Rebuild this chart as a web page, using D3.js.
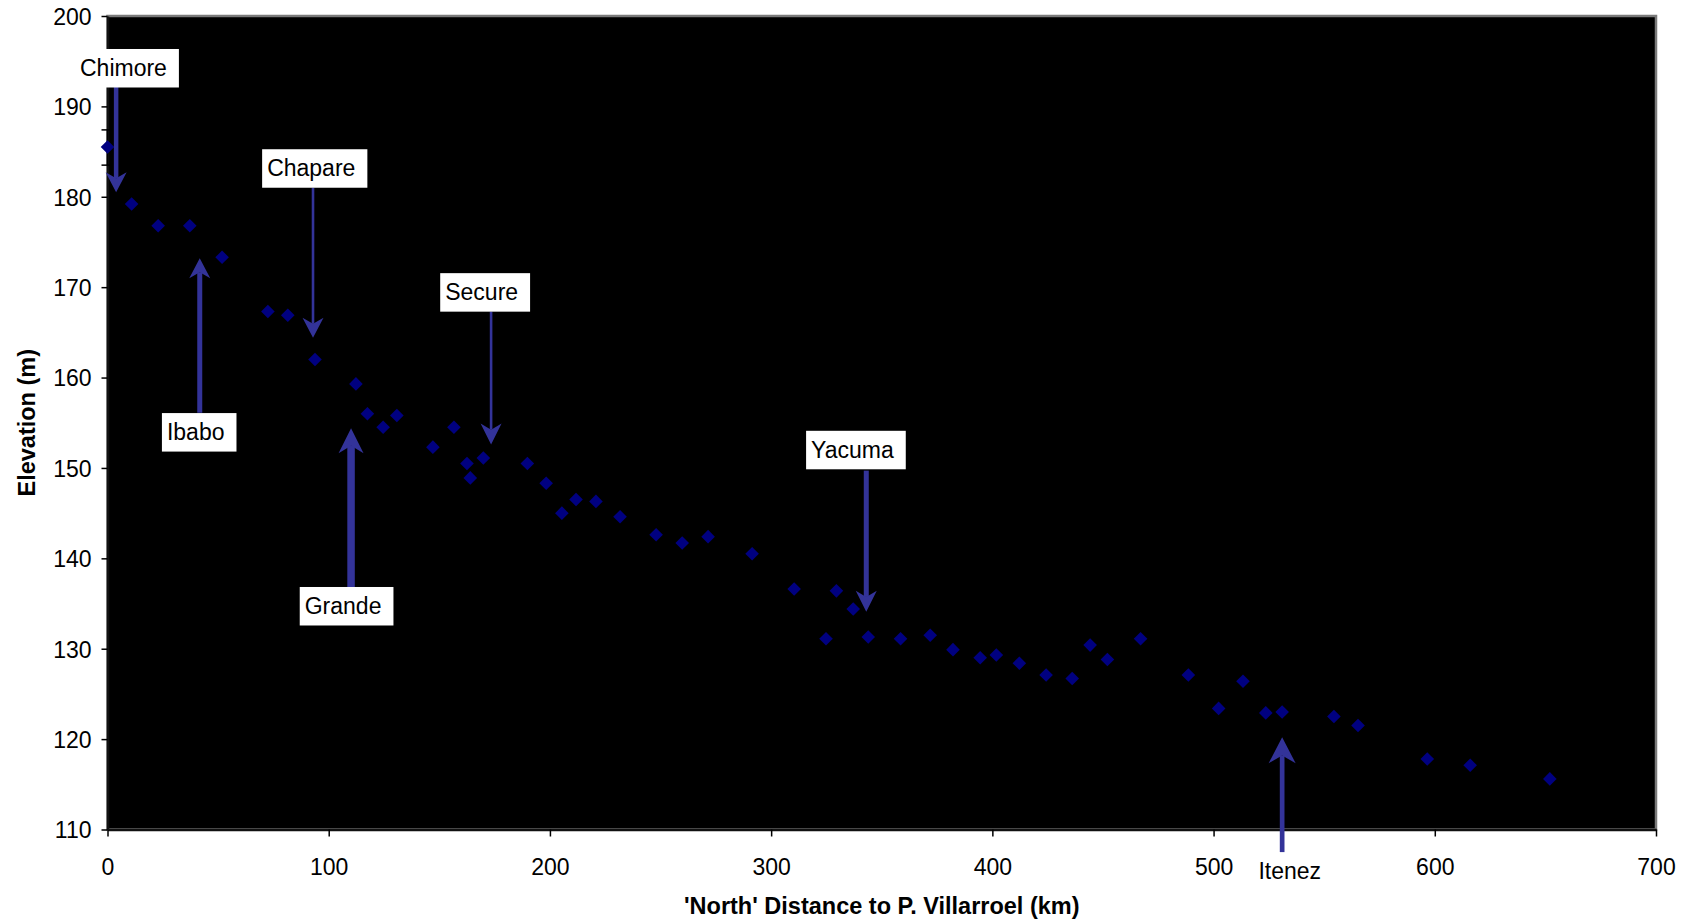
<!DOCTYPE html>
<html>
<head>
<meta charset="utf-8">
<script src="https://cdn.jsdelivr.net/npm/d3@7"></script>
<style>
    body { margin: 0; background: white; }
    svg { display: block; }
</style>
</head>
<body>
<div class="graph"></div>
<script>
// distance north (km) and elevation (m) of each point
var distKm = [0, 10.9, 22.9, 37.2, 51.8, 72.5, 81.5, 93.8, 112.3, 117.5, 124.6, 130.8, 147.1, 156.6,
    162.5, 164.0, 169.9, 189.8, 198.3, 205.4, 211.8, 220.8, 231.7, 248.0, 259.8, 271.5, 291.4, 310.4,
    324.8, 329.5, 337.1, 343.9, 358.5, 371.9, 382.2, 394.5, 401.8, 412.2, 424.3, 436.1, 444.2, 452.0,
    467.0, 488.6, 502.3, 513.3, 523.6, 531.0, 554.4, 565.3, 596.6, 616.0, 652.0];
var elevM = [185.5, 179.2, 176.8, 176.8, 173.3, 167.3, 166.9, 162.0, 159.3, 156.0, 154.5, 155.8, 152.3, 154.5,
    150.5, 148.9, 151.1, 150.5, 148.3, 145.0, 146.5, 146.3, 144.6, 142.6, 141.7, 142.4, 140.5, 136.6,
    131.1, 136.4, 134.4, 131.3, 131.1, 131.5, 129.9, 129.0, 129.3, 128.4, 127.1, 126.7, 130.4, 128.8,
    131.1, 127.1, 123.4, 126.4, 122.9, 123.0, 122.5, 121.5, 117.8, 117.1, 115.6];

// error bar on the first point (only part that shows)
var errKm = [0];
var errLow = [183.5];
var errHigh = [187.4];

var xTicks = [0, 100, 200, 300, 400, 500, 600, 700];
var yTicks = [110, 120, 130, 140, 150, 160, 170, 180, 190, 200];

// river annotations: arrow at km, from tail elevation to tip elevation, label box corner
var riverNames = ["Chimore", "Chapare", "Secure", "Ibabo", "Grande", "Yacuma", "Itenez"];
var riverKm = [3.9, 92.9, 173.4, 41.7, 110.1, 343.0, 531.0];
var riverTail = [192.6, 181.0, 167.3, 156.1, 136.8, 149.7, 107.5];
var riverTip = [180.5, 164.4, 152.6, 173.2, 154.4, 134.1, 120.2];
var labelKm = [-14.7, 69.9, 150.4, 24.6, 86.9, 315.8, 518.0];
var labelElev = [196.35, 185.26, 171.55, 156.07, 136.83, 154.11, 107.5];

var text_color, dot_color, arrow_color, font;

function graphConfig()
{
    /// CONFIG VARIABLES ///
    text_color = "black";
    dot_color = "#000080";
    arrow_color = "#333399";
    font = "'Liberation Sans', Arial, sans-serif";
    //// END OF CONFIG ////
}

// line width and head size of each arrow (same order as riverNames)
var arrowStyle = [
    {w: 4.5, hw: 21, hh: 20, box: true},
    {w: 2.6, hw: 21, hh: 20, box: true},
    {w: 2.6, hw: 21, hh: 21, box: true},
    {w: 5, hw: 21, hh: 20, box: true},
    {w: 7.5, hw: 25, hh: 25, box: true},
    {w: 5, hw: 21, hh: 21, box: true},
    {w: 4.7, hw: 27, hh: 26, box: false}
];

function createGraph() {
    var svgWidth = 1690, svgHeight = 920;
    var margin = {top: 16, right: 34, bottom: 90.5, left: 107.5};
    var width = svgWidth - margin.left - margin.right;
    var height = svgHeight - margin.top - margin.bottom;

    var svg = d3.select("div.graph").append("svg")
        .attr("width", svgWidth)
        .attr("height", svgHeight)
        .style("font-family", font);

    var g = svg.append("g")
        .attr("transform", "translate(" + margin.left + "," + margin.top + ")");

    var x = d3.scaleLinear().domain([0, 700]).range([0, width]);
    var y = d3.scaleLinear().domain([110, 200]).range([height, 0]);

    // plot area
    g.append("rect")
        .attr("width", width)
        .attr("height", height)
        .attr("fill", "black")
        .attr("stroke", "#7a7a7a")
        .attr("stroke-width", 2.5);

    var xAxis = g.append("g")
        .attr("transform", "translate(0," + height + ")")
        .call(d3.axisBottom(x).tickValues(xTicks).tickSize(7).tickSizeOuter(0).tickPadding(22));
    xAxis.select(".domain").attr("stroke", "#111").attr("stroke-width", 2.5);
    xAxis.selectAll(".tick line").attr("stroke", "black").attr("stroke-width", 1.5);
    xAxis.selectAll("text").attr("font-size", 23).attr("fill", text_color);

    var yAxis = g.append("g")
        .call(d3.axisLeft(y).tickValues(yTicks).tickSize(6).tickSizeOuter(0).tickPadding(10));
    yAxis.select(".domain").attr("stroke", "#111").attr("stroke-width", 2.5);
    yAxis.selectAll(".tick line").attr("stroke", "black").attr("stroke-width", 1.5);
    yAxis.selectAll("text").attr("font-size", 23).attr("fill", text_color).attr("dy", "0.36em");

    // axis titles
    svg.append("text")
        .attr("x", margin.left + width / 2)
        .attr("y", 914)
        .attr("text-anchor", "middle")
        .attr("font-size", 23.5)
        .attr("font-weight", "bold")
        .attr("fill", text_color)
        .text("'North' Distance to P. Villarroel (km)");

    svg.append("text")
        .attr("transform", "translate(34.5," + (margin.top + height / 2) + ") rotate(-90)")
        .attr("text-anchor", "middle")
        .attr("font-size", 23.5)
        .attr("font-weight", "bold")
        .attr("fill", text_color)
        .text("Elevation (m)");

    // error bar
    var eb = g.append("g").attr("stroke", "black").attr("stroke-width", 1.5);
    errKm.forEach(function (k, i) {
        eb.append("line").attr("x1", x(k)).attr("x2", x(k)).attr("y1", y(errLow[i])).attr("y2", y(errHigh[i]));
        eb.append("line").attr("x1", x(k) - 6).attr("x2", x(k) + 6).attr("y1", y(errLow[i])).attr("y2", y(errLow[i]));
        eb.append("line").attr("x1", x(k) - 6).attr("x2", x(k) + 6).attr("y1", y(errHigh[i])).attr("y2", y(errHigh[i]));
    });

    // points
    var pts = distKm.map(function (d, i) { return {km: d, elev: elevM[i]}; });
    g.append("g").selectAll("path")
        .data(pts)
        .join("path")
        .attr("d", d3.symbol().type(d3.symbolSquare).size(92))
        .attr("transform", function (d) {
            return "translate(" + x(d.km) + "," + y(d.elev) + ") rotate(45)";
        })
        .attr("fill", dot_color);

    // arrows and labels
    var ann = g.append("g");
    riverNames.forEach(function (name, i) {
        var st = arrowStyle[i];
        var ax = x(riverKm[i]);
        var tipY = y(riverTip[i]);
        var tailY = y(riverTail[i]);
        var dir = tipY > tailY ? 1 : -1;   // 1 = pointing down
        var notch = st.hh * 0.7;

        ann.append("line")
            .attr("x1", ax).attr("x2", ax)
            .attr("y1", tailY)
            .attr("y2", tipY - dir * notch)
            .attr("stroke", arrow_color)
            .attr("stroke-width", st.w);

        var p = d3.path();
        p.moveTo(ax, tipY);
        p.lineTo(ax - st.hw / 2, tipY - dir * st.hh);
        p.lineTo(ax, tipY - dir * notch);
        p.lineTo(ax + st.hw / 2, tipY - dir * st.hh);
        p.closePath();
        ann.append("path").attr("d", p.toString()).attr("fill", arrow_color);

        var bx = x(labelKm[i]);
        var by = y(labelElev[i]);
        var box = ann.append("rect")
            .attr("x", bx)
            .attr("y", by)
            .attr("height", 38.5)
            .attr("fill", "white");
        var t = ann.append("text")
            .attr("x", bx + 5)
            .attr("y", by + 27)
            .attr("font-size", 23)
            .attr("fill", text_color)
            .text(name);
        if (st.box) {
            box.attr("width", t.node().getComputedTextLength() + 17);
        } else {
            box.remove();
        }
    });
}

graphConfig();
createGraph();
</script>
</body>
</html>
